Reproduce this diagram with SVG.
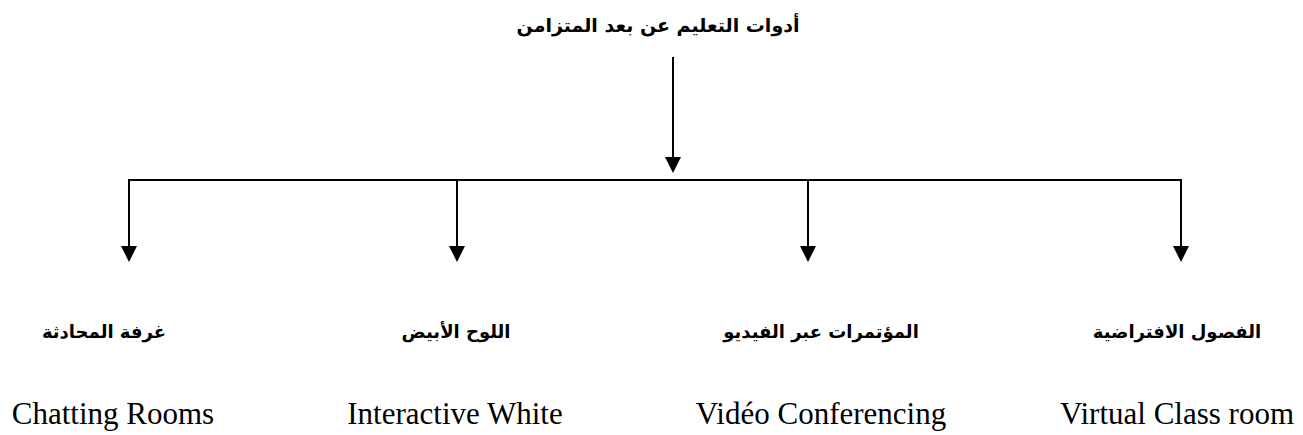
<svg xmlns="http://www.w3.org/2000/svg" width="1303" height="435" viewBox="0 0 1303 435">
<style>
.ar{font-family:"DejaVu Sans",sans-serif;font-weight:bold;font-size:18px;fill:#000;text-anchor:middle}
.title{font-size:19px}
.en{font-family:"Liberation Serif",serif;font-size:31px;fill:#000;text-anchor:middle}
.ln{stroke:#000;stroke-width:2;fill:none}
</style>
<defs>
<marker id="ah" markerUnits="userSpaceOnUse" markerWidth="16" markerHeight="16" refX="6" refY="8" orient="auto">
<path d="M0,0 L16,8 L0,16 z" fill="#000"/>
</marker>
</defs>
<g id="root"><text class="ar title" x="658" y="32" direction="rtl">أدوات التعليم عن بعد المتزامن</text></g>
<g id="connectors">
<line class="ln" x1="673" y1="57" x2="673" y2="163" marker-end="url(#ah)"/>
<line class="ln" x1="129" y1="180" x2="1181" y2="180" stroke-linecap="square"/>
<line class="ln" x1="129" y1="180" x2="129" y2="252" marker-end="url(#ah)"/>
<line class="ln" x1="457" y1="180" x2="457" y2="252" marker-end="url(#ah)"/>
<line class="ln" x1="808" y1="180" x2="808" y2="252" marker-end="url(#ah)"/>
<line class="ln" x1="1181" y1="180" x2="1181" y2="252" marker-end="url(#ah)"/>
</g>
<g id="node-chat"><text class="ar" x="104" y="338" direction="rtl">غرفة المحادثة</text><text class="en" x="113" y="424">Chatting Rooms</text></g>
<g id="node-white"><text class="ar" x="456" y="338" direction="rtl">اللوح الأبيض</text><text class="en" x="455" y="424">Interactive White</text></g>
<g id="node-video"><text class="ar" x="821" y="338" direction="rtl">المؤتمرات عبر الفيديو</text><text class="en" x="821" y="424">Vidéo Conferencing</text></g>
<g id="node-virtual"><text class="ar" x="1177" y="338" direction="rtl">الفصول الافتراضية</text><text class="en" x="1177" y="424">Virtual Class room</text></g>
</svg>
